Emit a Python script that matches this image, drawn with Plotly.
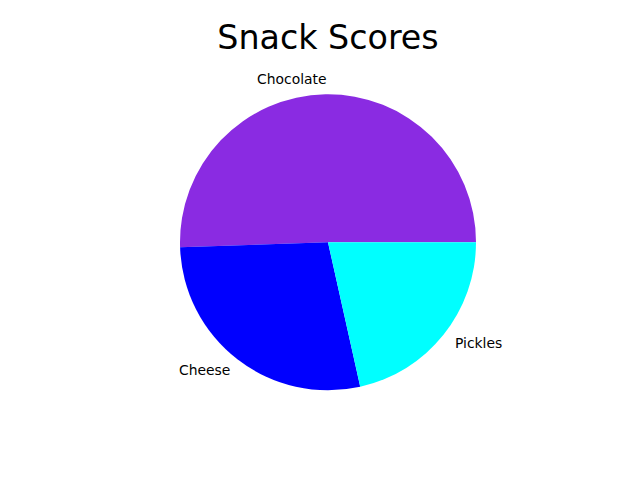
import numpy as np
import plotly.graph_objects as go

labels = ["Chocolate", "Cheese", "Pickles"]
scores = [47, 26, 20]
colors = ["#8A2BE2", "#0000FF", "#00FFFF"]
title_text = "Snack Scores"

W, H = 640, 480
cx, cy, r = 328.0, 242.3, 148.0  # pixel layout of the pie

vals = np.array(scores, dtype=float)
fr = vals / vals.sum()
# Plotly (counterclockwise) puts the END of the first slice at the rotation point;
# put it so the first slice starts at 3 o'clock, like matplotlib's default.
rot = 90.0 - 360.0 * fr[0]

fig = go.Figure(go.Pie(
    labels=labels,
    values=scores,
    marker=dict(colors=colors, line=dict(width=0)),
    sort=False,
    direction="counterclockwise",
    rotation=rot,
    textinfo="none",
    hoverinfo="label+value",
    showlegend=False,
    domain=dict(x=[(cx - r) / W, (cx + r) / W], y=[(H - cy - r) / H, (H - cy + r) / H]),
))

starts = np.concatenate([[0], np.cumsum(fr)[:-1]])
mids = 2 * np.pi * (starts + fr / 2)
annotations = []
for lab, th in zip(labels, mids):
    px = cx + 1.1 * r * np.cos(th)
    py = cy - 1.1 * r * np.sin(th)
    right = np.cos(th) <= 0
    annotations.append(dict(
        x=px / W, y=1 - py / H, xref="paper", yref="paper",
        text=lab, showarrow=False,
        xanchor="right" if right else "left", yanchor="middle",
        xshift=2 if right else 0, yshift=1,
        borderpad=0, borderwidth=0,
        font=dict(family="DejaVu Sans", size=13.9, color="black"),
    ))

fig.update_layout(
    width=W, height=H,
    margin=dict(l=0, r=0, t=0, b=0),
    paper_bgcolor="white", plot_bgcolor="white",
    title=dict(text=title_text, x=cx / W, xanchor="center", y=1 - 37 / H, yanchor="middle",
               font=dict(family="DejaVu Sans", size=33.3, color="black")),
    annotations=annotations,
)

fig.write_html("out.html")
